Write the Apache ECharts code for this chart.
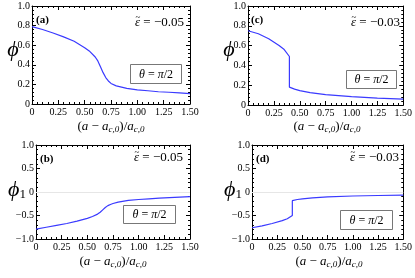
<!DOCTYPE html>
<html><head><meta charset="utf-8">
<script src="https://cdn.jsdelivr.net/npm/echarts@6/dist/echarts.min.js"></script>
<style>html,body{margin:0;padding:0;background:#fff}#c{width:415px;height:278px}</style>
</head><body><div id="c"></div>
<script>
// Panel (a): phi, eps=-0.05
const xA = [0,0.1,0.2,0.3,0.4,0.5,0.55,0.6,0.625,0.65,0.675,0.7,0.725,0.75,0.8,0.9,1.0,1.1,1.2,1.3,1.4,1.5];
const yA = [0.79,0.76,0.725,0.685,0.64,0.575,0.535,0.48,0.44,0.38,0.32,0.27,0.235,0.21,0.185,0.16,0.145,0.135,0.125,0.12,0.113,0.105];
// Panel (c): phi, eps=-0.03
const xC = [0,0.1,0.2,0.3,0.35,0.4,0.4,0.45,0.5,0.6,0.75,1.0,1.25,1.5];
const yC = [0.75,0.72,0.67,0.6,0.56,0.49,0.18,0.16,0.145,0.125,0.105,0.085,0.07,0.06];
// Panel (b): phi1, eps=-0.05
const xB = [0,0.1,0.2,0.3,0.4,0.5,0.55,0.6,0.625,0.65,0.675,0.7,0.725,0.75,0.8,0.9,1.0,1.1,1.2,1.3,1.4,1.5];
const yB = [-0.79,-0.75,-0.71,-0.67,-0.62,-0.56,-0.52,-0.47,-0.43,-0.38,-0.33,-0.29,-0.265,-0.245,-0.215,-0.18,-0.16,-0.145,-0.13,-0.12,-0.11,-0.1];
// Panel (d): phi1, eps=-0.03
const xD = [0,0.1,0.2,0.3,0.35,0.4,0.4,0.45,0.5,0.6,0.75,1.0,1.25,1.5];
const yD = [-0.76,-0.72,-0.67,-0.61,-0.57,-0.5,-0.185,-0.16,-0.145,-0.125,-0.105,-0.085,-0.075,-0.065];

const xTicks = ['0','0.25','0.50','0.75','1.00','1.25','1.50'];
const yTicksTop = ['0','0.2','0.4','0.6','0.8','1.0'];
const yTicksBot = ['\u22121.0','\u22120.5','0','0.5','1.0'];
const panelLabels = ['(a)','(c)','(b)','(d)'];
const epsLabels = ['\u22120.05','\u22120.03','\u22120.05','\u22120.03'];

const SERIF = 'Liberation Serif';
const grids = [
  {left:32, top:6, width:158, height:98},
  {left:248, top:6, width:158, height:99},
  {left:36, top:145, width:154, height:94},
  {left:252, top:145, width:154, height:94}
];
const data = [[xA,yA],[xC,yC],[xB,yB],[xD,yD]];
const xAxes=[], yAxes=[], series=[];
const tickStyle = {show:true, inside:true, length:4, lineStyle:{color:'#000',width:1}};
const minorStyle = {show:true, splitNumber:5, length:2, lineStyle:{color:'#000',width:1}};
grids.forEach((g,i)=>{
  const top = i<2;
  const ymin = top?0:-1, ymax = 1, yint = top?0.2:0.5;
  const ylab = top?yTicksTop:yTicksBot;
  xAxes.push({type:'value', gridIndex:i, min:0, max:1.5, interval:0.25, position:'bottom',
    axisLine:{show:true,onZero:false,lineStyle:{color:'#000',width:1}},
    axisTick:tickStyle, minorTick:minorStyle, splitLine:{show:false},
    axisLabel:{margin:3, color:'#000', fontFamily:SERIF, fontSize:10,
      formatter:(v)=>xTicks[Math.round(v/0.25)]}});
  xAxes.push({type:'value', gridIndex:i, min:0, max:1.5, interval:0.25, position:'top',
    axisLine:{show:true,onZero:false,lineStyle:{color:'#000',width:1}},
    axisTick:tickStyle, minorTick:minorStyle, splitLine:{show:false}, axisLabel:{show:false}});
  yAxes.push({type:'value', gridIndex:i, min:ymin, max:ymax, interval:yint, position:'left',
    axisLine:{show:true,onZero:false,lineStyle:{color:'#000',width:1}},
    axisTick:tickStyle, minorTick:minorStyle, splitLine:{show:false},
    axisLabel:{margin:2, color:'#000', fontFamily:SERIF, fontSize:10,
      formatter:(v)=>ylab[Math.round((v-ymin)/yint)]}});
  yAxes.push({type:'value', gridIndex:i, min:ymin, max:ymax, interval:yint, position:'right',
    axisLine:{show:true,onZero:false,lineStyle:{color:'#000',width:1}},
    axisTick:tickStyle, minorTick:minorStyle, splitLine:{show:false}, axisLabel:{show:false}});
  const s = {type:'line', xAxisIndex:2*i, yAxisIndex:2*i, showSymbol:false, symbol:'none',
    lineStyle:{color:'#3a3aff', width:1.2}, animation:false, z:3,
    data:data[i][0].map((x,k)=>[x,data[i][1][k]])};
  if(!top){
    s.markLine = {silent:true, symbol:'none', label:{show:false}, z:1,
      lineStyle:{color:'#e6e6e6', width:1, type:'solid'}, data:[{yAxis:0}]};
  }
  series.push(s);
});

const rich = {
  it:{fontFamily:SERIF, fontStyle:'italic', fontSize:13, color:'#000'},
  rm:{fontFamily:SERIF, fontSize:13, color:'#000'},
  sub:{fontFamily:SERIF, fontStyle:'italic', fontSize:9, color:'#000', verticalAlign:'bottom', padding:[6,0,0,0]}
};
const xTitle = '{rm|(}{it|a}{rm| \u2212 }{it|a}{sub|c,0}{rm|)/}{it|a}{sub|c,0}';
const graphic = [];
const titlePos = [[111,127],[327,127],[113,262],[329,262]];
titlePos.forEach(p=>graphic.push({type:'text', x:p[0], y:p[1], style:{text:xTitle, rich:rich, align:'center', verticalAlign:'middle'}}));
// y titles
graphic.push({type:'text', x:13, y:50, style:{text:'\u03d5', font:'italic 22px '+SERIF, fill:'#000', align:'center', verticalAlign:'middle'}});
graphic.push({type:'text', x:229, y:50, style:{text:'\u03d5', font:'italic 22px '+SERIF, fill:'#000', align:'center', verticalAlign:'middle'}});
const phi1 = {text:'{p|\u03d5}{s|1}', align:'center', verticalAlign:'middle',
  rich:{p:{fontFamily:SERIF,fontStyle:'italic',fontSize:22,color:'#000'}, s:{fontFamily:SERIF,fontSize:13,color:'#000',padding:[10,0,0,0]}}};
graphic.push({type:'text', x:17, y:190, style:phi1});
graphic.push({type:'text', x:233, y:190, style:phi1});
// panel labels
const plPos = [[36,15],[251,15],[40,154],[256,154]];
plPos.forEach((p,i)=>graphic.push({type:'text', left:p[0], top:p[1], style:{text:panelLabels[i], font:'bold 11px '+SERIF, fill:'#000'}}));
// epsilon labels (right-aligned), tilde drawn over epsilon
const cv = document.createElement('canvas').getContext('2d');
const epsPos = [[184,23],[400,23],[183,158],[399,158]];
epsPos.forEach((p,i)=>{
  const rest = ' = '+epsLabels[i];
  cv.font = '13px '+SERIF; const wRest = cv.measureText(rest).width;
  cv.font = 'italic 13px '+SERIF; const wEps = cv.measureText('\u03b5').width;
  const xe = p[0]-wRest-wEps;
  graphic.push({type:'text', x:p[0], y:p[1], style:{text:rest, font:'13px '+SERIF, fill:'#000', align:'right', verticalAlign:'middle'}});
  graphic.push({type:'text', x:xe, y:p[1], style:{text:'\u03b5', font:'italic 13px '+SERIF, fill:'#000', align:'left', verticalAlign:'middle'}});
  graphic.push({type:'text', x:xe+wEps/2+0.5, y:p[1]-5, style:{text:'~', font:'9px '+SERIF, fill:'#000', align:'center', verticalAlign:'middle'}});
});
// theta boxes
const boxPos = [[130,64,51,19],[346,70,50,18],[123,205,52,18],[340,210,52,19]];
boxPos.forEach(b=>{
  graphic.push({type:'rect', shape:{x:b[0]+0.5, y:b[1]+0.5, width:b[2], height:b[3]}, style:{fill:'#fff', stroke:'#777', lineWidth:1}, z:10});
  graphic.push({type:'text', x:b[0]+b[2]/2+0.5, y:b[1]+b[3]/2+1, z:11, style:{text:'{it|\u03b8}{rm| = }{it|\u03c0}{rm|/2}', align:'center', verticalAlign:'middle',
    rich:{it:{fontFamily:SERIF,fontStyle:'italic',fontSize:12,color:'#000'}, rm:{fontFamily:SERIF,fontSize:12,color:'#000'}}}});
});

const chart = echarts.init(document.getElementById('c'), null, {renderer:'canvas'});
chart.setOption({animation:false, grid:grids, xAxis:xAxes, yAxis:yAxes, series:series, graphic:graphic});
</script></body></html>
